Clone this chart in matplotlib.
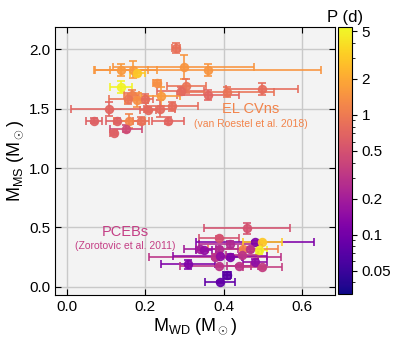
import numpy as np
import matplotlib
matplotlib.use("Agg")
import matplotlib.pyplot as plt
from matplotlib.colors import LogNorm
from matplotlib.ticker import FormatStrFormatter, NullFormatter

plt.rcParams['font.family'] = ['Liberation Sans', 'DejaVu Sans']
plt.rcParams['mathtext.fontset'] = 'custom'
plt.rcParams['mathtext.rm'] = 'Liberation Sans'
plt.rcParams['mathtext.it'] = 'Liberation Sans:italic'

# EL CVn systems (van Roestel et al. 2018)
el_mwd = [0.278, 0.138, 0.169, 0.180, 0.298, 0.360, 0.138, 0.229, 0.305, 0.290,
          0.360, 0.408, 0.498, 0.165, 0.157, 0.178, 0.199, 0.239, 0.108, 0.207,
          0.237, 0.269, 0.070, 0.129, 0.159, 0.189, 0.258, 0.151, 0.119]
el_mwd_err = [0.011, 0.068, 0.060, 0.020, 0.180, 0.289, 0.029, 0.010, 0.050, 0.060,
              0.080, 0.119, 0.091, 0.020, 0.050, 0.030, 0.020, 0.050, 0.097, 0.020,
              0.040, 0.066, 0.020, 0.030, 0.040, 0.020, 0.040, 0.040, 0.010]
el_mms = [2.015, 1.824, 1.830, 1.800, 1.852, 1.824, 1.684, 1.720, 1.690, 1.650,
          1.614, 1.642, 1.670, 1.614, 1.586, 1.572, 1.586, 1.605, 1.500, 1.493,
          1.500, 1.520, 1.400, 1.400, 1.398, 1.398, 1.400, 1.330, 1.296]
el_mms_err = [0.042, 0.050, 0.070, 0.020, 0.100, 0.050, 0.050, 0.020, 0.060, 0.030,
              0.040, 0.040, 0.050, 0.040, 0.050, 0.060, 0.040, 0.080, 0.060, 0.020,
              0.070, 0.040, 0.020, 0.020, 0.060, 0.030, 0.030, 0.030, 0.020]
el_period = [0.85, 1.6, 1.6, 3.0, 1.5, 1.5, 5.0, 1.4, 0.9, 0.75,
             0.7, 0.9, 0.8, 1.1, 0.9, 1.4, 0.8, 1.6, 0.7, 0.75,
             0.75, 0.8, 0.65, 0.65, 1.2, 0.85, 0.7, 0.45, 0.65]

# Post-common-envelope binaries (Zorotovic et al. 2011)
pc_mwd = [0.459, 0.388, 0.417, 0.479, 0.498, 0.490, 0.449, 0.467, 0.388, 0.339,
          0.349, 0.378, 0.390, 0.417, 0.447, 0.479, 0.309, 0.388, 0.439, 0.498,
          0.409, 0.390]
pc_mwd_err = [0.110, 0.050, 0.080, 0.150, 0.050, 0.020, 0.089, 0.030, 0.060, 0.040,
              0.020, 0.168, 0.120, 0.030, 0.040, 0.030, 0.069, 0.100, 0.030, 0.050,
              0.010, 0.039]
pc_mms = [0.491, 0.413, 0.357, 0.374, 0.374, 0.309, 0.315, 0.315, 0.315, 0.315,
          0.309, 0.253, 0.258, 0.253, 0.267, 0.211, 0.188, 0.174, 0.174, 0.163,
          0.096, 0.042]
pc_mms_err = [0.050, 0.010, 0.030, 0.010, 0.010, 0.030, 0.010, 0.020, 0.020, 0.010,
              0.010, 0.020, 0.020, 0.020, 0.010, 0.020, 0.040, 0.010, 0.010, 0.010,
              0.030, 0.010]
pc_period = [0.5, 0.5, 0.25, 0.12, 3.0, 5.0, 1.2, 0.3, 0.25, 0.2,
             0.15, 0.3, 0.15, 0.12, 0.3, 0.15, 0.12, 0.3, 0.3, 0.35,
             0.07, 0.08]

p_min, p_max = 0.032, 5.4
cbar_ticks = [0.05, 0.1, 0.2, 0.5, 1, 2, 5]

cmap = plt.get_cmap('plasma')
norm = LogNorm(vmin=p_min, vmax=p_max)

fig = plt.figure(figsize=(3.99, 3.45), dpi=100)
ax = fig.add_axes([0.138, 0.145, 0.702, 0.777])
cax = fig.add_axes([0.848, 0.148, 0.034, 0.773])

ax.set_facecolor('#f3f3f3')
ax.grid(True, color='#c9c9c9', linewidth=1.0)
ax.set_axisbelow(True)


def draw_group(mwd, mwd_err, mms, mms_err, period):
    for x, xe, y, ye, p in zip(mwd, mwd_err, mms, mms_err, period):
        c = cmap(norm(p))
        ax.errorbar(x, y, xerr=xe, yerr=ye, fmt='o', color=c, ecolor=c,
                    markersize=5.8, elinewidth=1.3, capsize=3, capthick=1.3,
                    alpha=0.9, zorder=3)


draw_group(el_mwd, el_mwd_err, el_mms, el_mms_err, el_period)
draw_group(pc_mwd, pc_mwd_err, pc_mms, pc_mms_err, pc_period)

ax.text(0.469, 1.495, 'EL CVns', color='#f2844b', fontsize=10.5,
        ha='center', va='center')
ax.text(0.469, 1.375, '(van Roestel et al. 2018)', color='#f2844b', fontsize=7.5,
        ha='center', va='center')
ax.text(0.149, 0.463, 'PCEBs', color='#c43e85', fontsize=10.5,
        ha='center', va='center')
ax.text(0.149, 0.345, '(Zorotovic et al. 2011)', color='#c43e85', fontsize=7.5,
        ha='center', va='center')

ax.set_xlim(-0.03, 0.684)
ax.set_ylim(-0.07, 2.19)
ax.set_xticks([0.0, 0.2, 0.4, 0.6])
ax.set_yticks([0.0, 0.5, 1.0, 1.5, 2.0])
ax.xaxis.set_major_formatter(FormatStrFormatter('%.1f'))
ax.yaxis.set_major_formatter(FormatStrFormatter('%.1f'))
ax.tick_params(direction='in', top=True, right=True, length=4, labelsize=11)
ax.set_xlabel(r'M$_{\rm WD}$ (M$_\odot$)', fontsize=13, labelpad=2)
ax.set_ylabel(r'M$_{\rm MS}$ (M$_\odot$)', fontsize=13, labelpad=2)

sm = plt.cm.ScalarMappable(norm=norm, cmap=cmap)
cbar = fig.colorbar(sm, cax=cax)
cbar.set_ticks(cbar_ticks)
cbar.ax.yaxis.set_major_formatter(FormatStrFormatter('%g'))
cbar.ax.yaxis.set_minor_formatter(NullFormatter())
cbar.ax.tick_params(which='major', length=3.5, labelsize=11)
cbar.ax.tick_params(which='minor', length=2)
cbar.ax.set_title('P (d)', fontsize=12, pad=4)

fig.savefig('out.png', dpi=100)
